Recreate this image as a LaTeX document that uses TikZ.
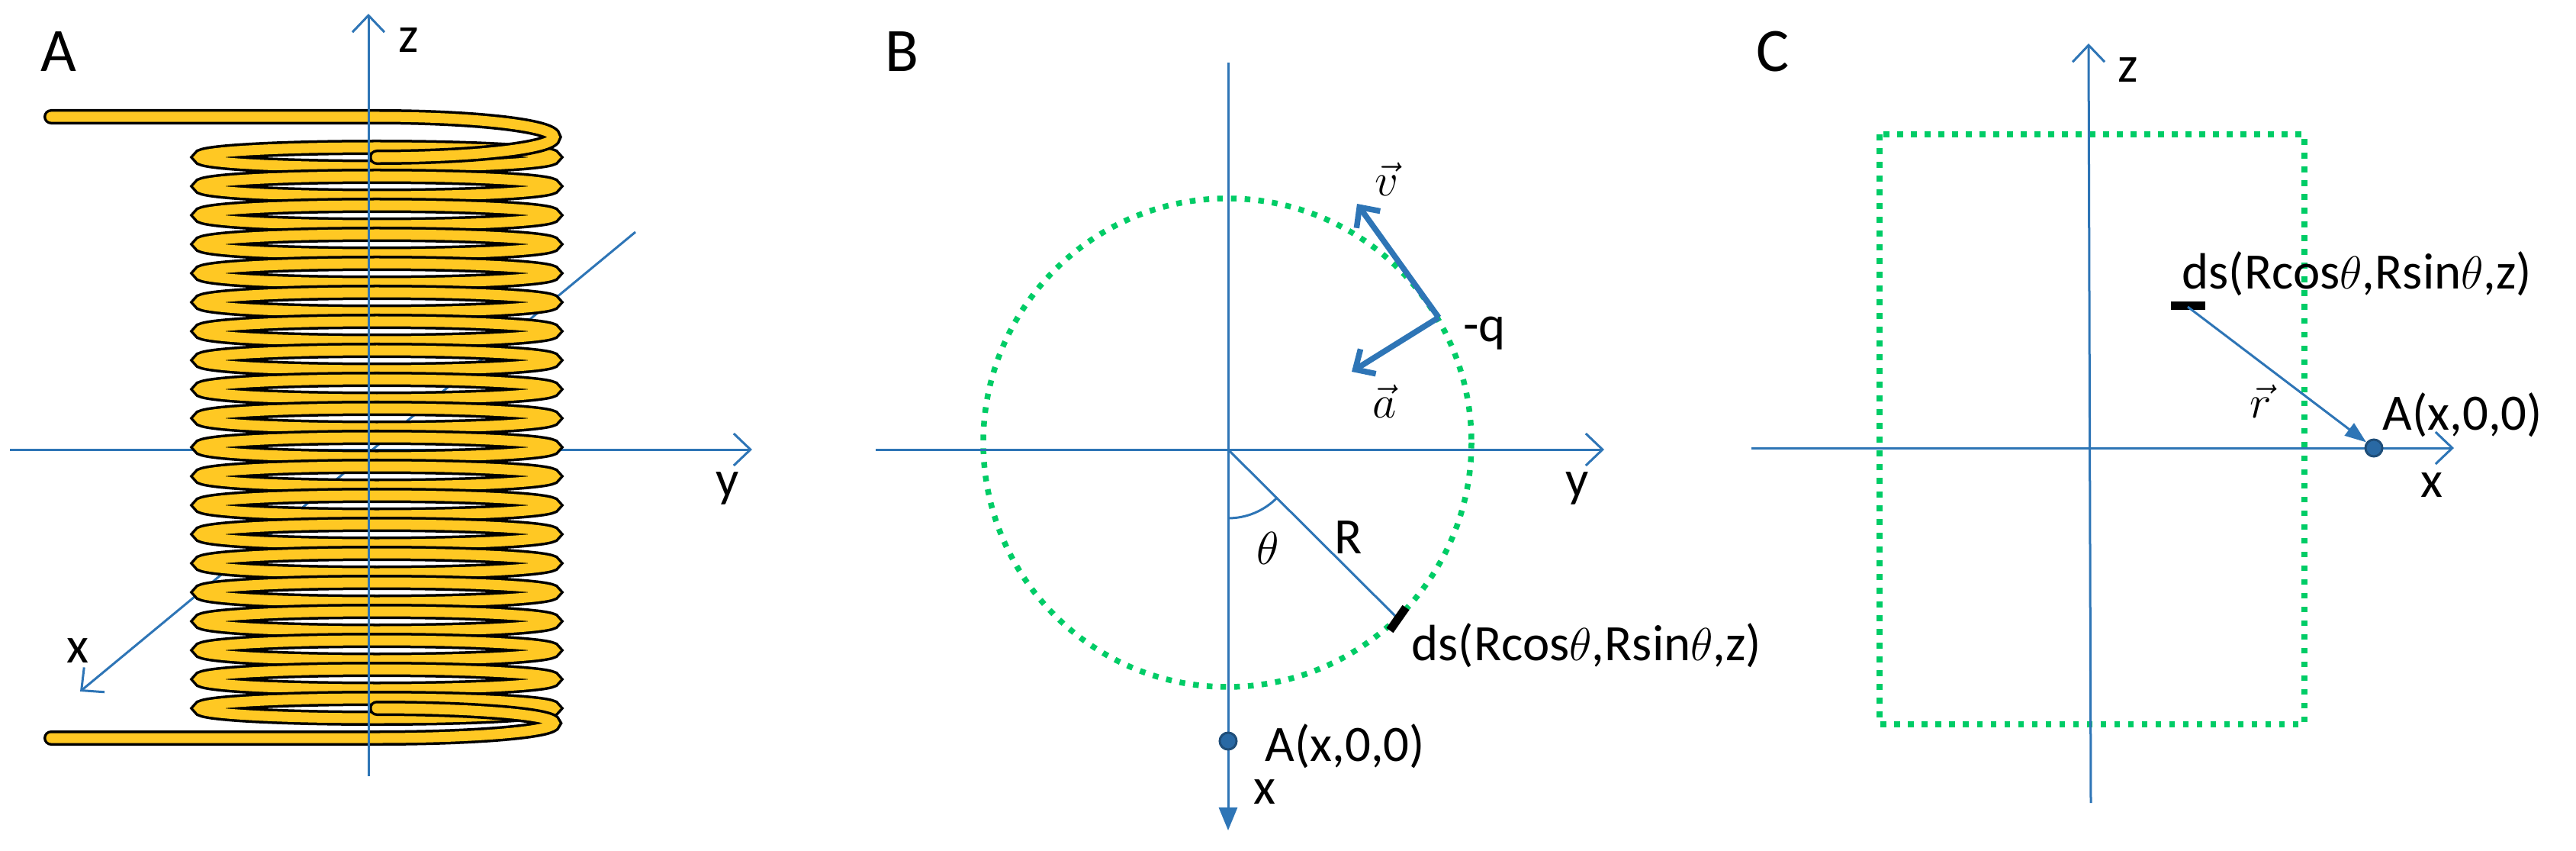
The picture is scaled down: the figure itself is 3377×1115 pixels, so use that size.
\documentclass[tikz,border=0pt]{standalone}
\usepackage{fontspec}
\setmainfont{Carlito}
\usetikzlibrary{arrows.meta}
\definecolor{ax}{RGB}{46,117,182}
\definecolor{grn}{RGB}{0,204,102}
\definecolor{gold}{RGB}{255,200,35}
\definecolor{ptb}{RGB}{31,78,121}
\tikzset{
  axis/.style={draw=ax, line width=0.03cm},
  openhead/.style={-{Straight Barb[length=0.22cm,width=0.42cm,line width=0.03cm]}},
  dots/.style={draw=grn, line width=0.075cm, dash pattern=on 0.075cm off 0.105cm},
  vec/.style={draw=ax, line width=0.075cm, -{Straight Barb[length=0.2cm,width=0.38cm,line width=0.075cm]}},
  lbl/.style={font=\fontsize{19}{22}\selectfont, inner sep=0pt},
  big/.style={font=\fontsize{23}{26}\selectfont, inner sep=0pt},
  wireb/.style={draw=black, line width=0.2cm, line cap=round},
  wirey/.style={draw=gold, line width=0.13cm, line cap=round},
  pt/.style={circle, fill=ax!70!ptb, draw=ptb, line width=0.03cm, minimum size=0.22cm, inner sep=0pt},
  seg/.style={draw=black, line width=0.11cm}
}
\begin{document}
\begin{tikzpicture}[x=0.01cm,y=-0.01cm]
\useasboundingbox (0,0) rectangle (3377,1115);
% ---------------- Panel A ----------------
\node[big] (labA) at (77,68) {A};
\coordinate (Ayl) at (13,589); \coordinate (Ayr) at (986,589);
\coordinate (Axb) at (833,304); \coordinate (Axf) at (105,906);
\coordinate (Azb) at (483,1017); \coordinate (Azt) at (483,18);
\draw[axis,openhead] (Ayl) -- (Ayr);
\draw[axis,openhead] (Axb) -- (Axf);
\node[lbl] (Ay) at (954,640) {y};
\node[lbl] (Ax) at (102,853) {x};
% coil loops
\foreach \i in {0,...,19}{
  \pgfmathsetmacro{\yy}{206+38*\i}
  \draw[wireb] (494,\yy) ellipse (232 and 13);
  \draw[wirey] (494,\yy) ellipse (232 and 13);
}
% leads
\draw[wireb] (67,153) -- (494,153) arc[start angle=-90,end angle=90,x radius=232,y radius=26.5];
\draw[wirey] (67,153) -- (494,153) arc[start angle=-90,end angle=90,x radius=232,y radius=26.5];
\draw[wireb] (67,967) -- (494,967) arc[start angle=90,end angle=-90,x radius=232,y radius=19.5];
\draw[wirey] (67,967) -- (494,967) arc[start angle=90,end angle=-90,x radius=232,y radius=19.5];
\draw[axis,openhead] (Azb) -- (Azt);
\node[lbl] (Az) at (536,53) {z};
% ---------------- Panel B ----------------
\node[big] (labB) at (1182,68) {B};
\coordinate (O) at (1610,589);
\coordinate (Byl) at (1148,589); \coordinate (Byr) at (2103,589);
\coordinate (Bxt) at (1610,82); \coordinate (Bxb) at (1610,1088);
\draw[dots] (1609,580) circle (320);
\draw[axis,openhead] (Byl) -- (Byr);
\draw[axis,-{Triangle[length=0.3cm,width=0.24cm]}] (Bxt) -- (Bxb);
\node[lbl] (By) at (2068,640) {y};
\coordinate (dsB) at (1832,810);
\draw[axis] (O) -- (dsB);
\draw[seg] (1822,826) -- (1843,796);
\draw[draw=ax, line width=0.03cm] (1610,679) arc[start angle=90,end angle=44,radius=90];
\node[lbl] (th) at (1662,718) {$\theta$};
\node[lbl] (R) at (1768,704) {R};
\node[lbl, anchor=west] (dsBl) at (1850,846) {ds(Rcos$\theta$,Rsin$\theta$,z)};
\coordinate (q) at (1886,416);
\coordinate (vt) at (1779,267);
\coordinate (at) at (1772,487);
\draw[vec] (q) -- (vt);
\draw[vec] (q) -- (at);
\node[lbl] (vl) at (1818,235) {$\vec{v}$};
\node[lbl] (al) at (1815,526) {$\vec{a}$};
\node[lbl] (ql) at (1946,437) {-q};
\node[pt] (PB) at (1610,971) {};
\node[lbl, anchor=west] (PBl) at (1658,978) {A(x,0,0)};
\node[lbl] (Bx) at (1658,1038) {x};
% ---------------- Panel C ----------------
\node[big] (labC) at (2324,68) {C};
\draw[dots] (2464,176) rectangle (3021,949);
\coordinate (Cxl) at (2296,587); \coordinate (Cxr) at (3217,587);
\coordinate (Czb) at (2741,1052); \coordinate (Czt) at (2738,57);
\draw[axis,openhead] (Cxl) -- (Cxr);
\draw[axis,openhead] (Czb) -- (Czt);
\node[lbl] (Cz) at (2790,92) {z};
\node[lbl] (Cx) at (3188,636) {x};
\node[pt] (PC) at (3112,587) {};
\draw[seg] (2846,400) -- (2891,400);
\coordinate (dsC) at (2868,402);
\draw[draw=ax, line width=0.03cm, -{Triangle[length=0.28cm,width=0.2cm]}] (dsC) -- (PC);
\node[lbl] (rl) at (2964,526) {$\vec{r}$};
\node[lbl, anchor=west] (dsCl) at (2860,359) {ds(Rcos$\theta$,Rsin$\theta$,z)};
\node[lbl, anchor=west] (PCl) at (3123,544) {A(x,0,0)};
\end{tikzpicture}
\end{document}
